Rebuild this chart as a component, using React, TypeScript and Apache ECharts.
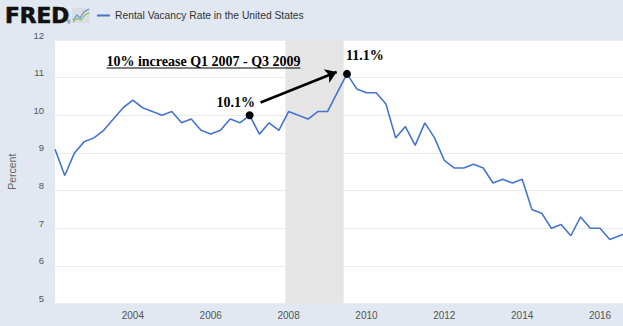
import React, { useEffect, useRef } from "react";
import * as echarts from "echarts";

// Quarterly periods and rental vacancy rate (%)
const periods: string[] = [
  "2002-Q1", "2002-Q2", "2002-Q3", "2002-Q4",
  "2003-Q1", "2003-Q2", "2003-Q3", "2003-Q4",
  "2004-Q1", "2004-Q2", "2004-Q3", "2004-Q4",
  "2005-Q1", "2005-Q2", "2005-Q3", "2005-Q4",
  "2006-Q1", "2006-Q2", "2006-Q3", "2006-Q4",
  "2007-Q1", "2007-Q2", "2007-Q3", "2007-Q4",
  "2008-Q1", "2008-Q2", "2008-Q3", "2008-Q4",
  "2009-Q1", "2009-Q2", "2009-Q3", "2009-Q4",
  "2010-Q1", "2010-Q2", "2010-Q3", "2010-Q4",
  "2011-Q1", "2011-Q2", "2011-Q3", "2011-Q4",
  "2012-Q1", "2012-Q2", "2012-Q3", "2012-Q4",
  "2013-Q1", "2013-Q2", "2013-Q3", "2013-Q4",
  "2014-Q1", "2014-Q2", "2014-Q3", "2014-Q4",
  "2015-Q1", "2015-Q2", "2015-Q3", "2015-Q4",
  "2016-Q1", "2016-Q2", "2016-Q3", "2016-Q4",
];
const vacancyRate: number[] = [
  9.1, 8.4, 9.0, 9.3,
  9.4, 9.6, 9.9, 10.2,
  10.4, 10.2, 10.1, 10.0,
  10.1, 9.8, 9.9, 9.6,
  9.5, 9.6, 9.9, 9.8,
  10.0, 9.5, 9.8, 9.6,
  10.1, 10.0, 9.9, 10.1,
  10.1, 10.6, 11.1, 10.7,
  10.6, 10.6, 10.3, 9.4,
  9.7, 9.2, 9.8, 9.4,
  8.8, 8.6, 8.6, 8.7,
  8.6, 8.2, 8.3, 8.2,
  8.3, 7.5, 7.4, 7.0,
  7.1, 6.8, 7.3, 7.0,
  7.0, 6.7, 6.8, 6.9,
];
const yTicks: number[] = [5, 6, 7, 8, 9, 10, 11, 12];
const xTickYears: number[] = [2004, 2006, 2008, 2010, 2012, 2014, 2016];
// Recession (decimal years): Dec 2007 - Jun 2009
const recession: [number, number] = [2007.917, 2009.414];
// Highlighted points and their labels
const highlightPeriods: string[] = ["2007-Q1", "2009-Q3"];
const highlightLabels: string[] = ["10.1%", "11.1%"];
const annotationTitle = "10% increase Q1 2007 - Q3 2009";
// Arrow (data coordinates)
const arrowFrom: [number, number] = [2007.28, 10.34];
const arrowTo: [number, number] = [2009.235, 11.15];

const toDecimalYear = (p: string): number => {
  const [y, q] = p.split("-Q");
  return Number(y) + (Number(q) - 1) / 4;
};

const App: React.FC = () => {
  const ref = useRef<HTMLDivElement>(null);

  useEffect(() => {
    if (!ref.current) return;
    const chart = echarts.init(ref.current, undefined, { renderer: "svg" });

    const lineData = periods.map((p, i) => [toDecimalYear(p), vacancyRate[i]]);
    const labelCfg = [
      { position: "top", distance: 2, offset: [-14, 0] },
      { position: "top", distance: 7, offset: [18, 0] },
    ];
    const scatterData = highlightPeriods.map((p, k) => {
      const i = periods.indexOf(p);
      return {
        value: [toDecimalYear(p), vacancyRate[i]],
        label: {
          show: true,
          formatter: highlightLabels[k],
          ...labelCfg[k],
        },
      };
    });

    const serif = "'Liberation Serif', 'Times New Roman', serif";
    const sans = "'Liberation Sans', Arial, sans-serif";

    chart.setOption({
      animation: false,
      backgroundColor: "#e1e8f1",
      grid: {
        left: 55,
        right: 0,
        top: 40,
        bottom: 22.5,
        show: true,
        backgroundColor: "#ffffff",
        borderWidth: 0,
        containLabel: false,
        outerBoundsMode: "none",
      },
      xAxis: {
        type: "value",
        min: 2002,
        max: 2016.59,
        interval: 2,
        axisLine: { show: false },
        axisTick: { show: false },
        splitLine: { show: false },
        axisLabel: {
          color: "#555",
          fontSize: 10,
          fontFamily: sans,
          margin: 7,
          showMaxLabel: false,
          formatter: (v: number) => (xTickYears.includes(v) ? String(v) : ""),
        },
      },
      yAxis: {
        type: "value",
        min: yTicks[0],
        max: yTicks[yTicks.length - 1],
        interval: 1,
        name: "Percent",
        nameLocation: "middle",
        nameGap: 38,
        nameTextStyle: { color: "#666", fontSize: 10.5, fontFamily: sans },
        axisLine: { show: false },
        axisTick: { show: false },
        splitLine: { lineStyle: { color: "#eaeaea", width: 1 } },
        axisLabel: {
          color: "#555",
          fontSize: 9.5,
          fontFamily: sans,
          margin: 11,
          verticalAlign: "bottom",
        },
      },
      series: [
        {
          type: "line",
          data: lineData,
          symbol: "none",
          lineStyle: { color: "#4674d0", width: 1.6 },
          z: 3,
          clip: true,
          markArea: {
            silent: true,
            itemStyle: { color: "#e5e5e5" },
            data: [[{ xAxis: recession[0] }, { xAxis: recession[1] }]],
          },
        },
        {
          type: "scatter",
          data: scatterData,
          symbolSize: 8,
          itemStyle: { color: "#000", opacity: 1 },
          z: 5,
          label: {
            color: "#000",
            fontSize: 14,
            fontWeight: "bold",
            fontFamily: serif,
          },
          markLine: {
            silent: true,
            symbol: ["none", "arrow"],
            symbolSize: 11,
            itemStyle: { color: "#000" },
            lineStyle: { color: "#000", width: 2.5, type: "solid", opacity: 1 },
            label: { show: false },
            data: [[{ coord: arrowFrom }, { coord: arrowTo }]],
          },
        },
      ],
      graphic: [
        // FRED logo
        {
          type: "text",
          x: 5,
          y: 16,
          scaleX: 1.14,
          scaleY: 1.08,
          style: {
            text: "FRED",
            fill: "#111",
            font: "bold 19px 'DejaVu Sans', sans-serif",
            textVerticalAlign: "middle",
            stroke: "#111",
            lineWidth: 0.6,
          },
        },
        {
          type: "text",
          x: 67,
          y: 22,
          style: { text: "®", fill: "#333", font: "5px sans-serif", textVerticalAlign: "middle" },
        },
        {
          type: "rect",
          shape: { x: 72, y: 8, width: 18, height: 15, r: 1 },
          style: { fill: "#d9dee5" },
        },
        {
          type: "polyline",
          shape: { points: [[73, 20], [77, 15], [80, 18], [84, 12], [89, 9]] },
          style: { stroke: "#6f8fd0", lineWidth: 1.2, fill: "none" },
        },
        {
          type: "polyline",
          shape: { points: [[73, 22], [77, 18.5], [81, 20], [85, 15], [89, 13]] },
          style: { stroke: "#8dbb5a", lineWidth: 1.2, fill: "none" },
        },
        // Legend
        {
          type: "line",
          shape: { x1: 97, y1: 15.5, x2: 110, y2: 15.5 },
          style: { stroke: "#4674d0", lineWidth: 2 },
        },
        {
          type: "text",
          x: 115,
          y: 15.5,
          style: {
            text: "Rental Vacancy Rate in the United States",
            fill: "#333",
            font: "10.3px 'Liberation Sans', Arial, sans-serif",
            textVerticalAlign: "middle",
          },
        },
        // Annotation title, underlined
        {
          type: "text",
          x: 203.5,
          y: 61.7,
          z: 10,
          style: {
            text: annotationTitle,
            fill: "#000",
            font: "bold 14px 'Liberation Serif', 'Times New Roman', serif",
            textAlign: "center",
            textVerticalAlign: "middle",
          },
        },
        {
          type: "line",
          z: 10,
          shape: { x1: 106.5, y1: 68, x2: 300.5, y2: 68 },
          style: { stroke: "#000", lineWidth: 1 },
        },
      ],
    });

    return () => chart.dispose();
  }, []);

  return (
    <div
      ref={ref}
      style={{ position: "absolute", left: 0, top: 0, width: 623, height: 326, background: "#e1e8f1" }}
    />
  );
};

export default App;
